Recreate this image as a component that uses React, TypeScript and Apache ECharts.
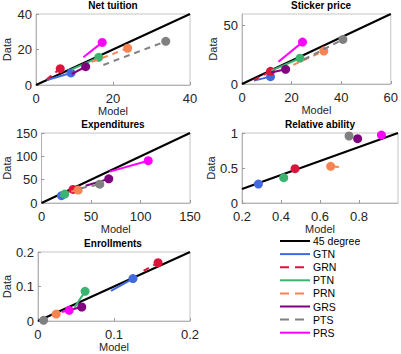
import React, { useEffect, useRef } from "react";
import * as echarts from "echarts";

// Group order, colours and dash styles
const groups = ["GTN", "GRN", "PTN", "PRN", "GRS", "PTS", "PRS"];
const groupColors = ["#4169E1", "#DC143C", "#3CB371", "#F98453", "#800080", "#808080", "#FF00FF"];
const groupDashed = [false, true, false, true, false, true, false];

// Each group is a segment: [start, end] in model units and data units
const netTuitionModel = [[2.8, 9.1], [2.8, 6.3], [9.3, 16.3], [14.5, 23.8], [9.3, 12.9], [17.5, 33.7], [12.3, 17.2]];
const netTuitionData = [[2.8, 6.8], [3.2, 9.2], [8.8, 15.6], [13.0, 20.7], [6.2, 10.3], [11.3, 24.6], [15.6, 24.0]];

const stickerModel = [[4.8, 11.5], [4.8, 11.5], [11.8, 23.4], [20.7, 33.0], [11.8, 17.6], [25.0, 40.7], [14.7, 24.4]];
const stickerData = [[2.9, 6.3], [3.4, 10.9], [11.5, 22.1], [16.4, 28.2], [9.8, 12.6], [21.0, 38.2], [19.0, 35.9]];

const expendModel = [[17, 20.1], [26.6, 31.8], [18.5, 23.4], [30, 37], [44.5, 67.9], [39.6, 58.8], [68.8, 107.8]];
const expendData = [[12, 15.6], [23.4, 29], [14, 19.1], [24.8, 27.6], [36.8, 51.7], [31.8, 40.3], [67.2, 90.6]];

const abilityModel = [[0.28, 0.284], [0.468, 0.472], [0.41, 0.414], [0.697, 0.655], [0.79, 0.793], [0.745, 0.749], [0.912, 0.915]];
const abilityData = [[0.27, 0.271], [0.49, 0.49], [0.362, 0.362], [0.514, 0.524], [0.919, 0.919], [0.957, 0.957], [0.97, 0.97]];

const enrollModel = [[0.096, 0.125], [0.139, 0.158], [0.048, 0.062], [0.018, 0.024], [0.04, 0.0576], [0.003, 0.0074], [0.031, 0.041]];
const enrollData = [[0.087, 0.123], [0.145, 0.169], [0.039, 0.086], [0.016, 0.02], [0.031, 0.0406], [0.0005, 0.0019], [0.026, 0.031]];

// Panel titles and axis ranges
const panelTitles = ["Net tuition", "Sticker price", "Expenditures", "Relative ability", "Enrollments"];
const xRanges = [[0, 40, 20], [0, 60, 20], [0, 150, 50], [0.2, 1, 0.2], [0, 0.2, 0.1]];
const yRanges = [[0, 40, 20], [0, 60, 50], [0, 150, 50], [0, 1, 0.5], [0, 0.2, 0.1]];
const diagonals = [[0, 40], [0, 60], [0, 150], [0.2, 1], [0, 0.2]];

const legendLabels = ["45 degree", ...groups];

const FONT = "Liberation Sans, Arial, Helvetica, sans-serif";

const panelModel = [netTuitionModel, stickerModel, expendModel, abilityModel, enrollModel];
const panelData = [netTuitionData, stickerData, expendData, abilityData, enrollData];

// Grid boxes in pixels
const grids = [
  { left: 36, top: 14, width: 154, height: 71 },
  { left: 242, top: 14, width: 158, height: 70 },
  { left: 36, top: 133, width: 154, height: 70 },
  { left: 242, top: 133, width: 156, height: 70 },
  { left: 36, top: 252, width: 154, height: 69 },
];

export default function App() {
  const ref = useRef<HTMLDivElement>(null);

  useEffect(() => {
    document.body.style.margin = "0";
    const chart = echarts.init(ref.current!, null, { renderer: "svg" });

    const axisCommon = {
      axisLine: { show: true, onZero: false, lineStyle: { color: "#b4b4b4", width: 1 } },
      axisTick: { show: true, inside: true, length: 3, lineStyle: { color: "#9a9a9a" } },
      splitLine: { show: false },
      nameLocation: "middle" as const,
      nameTextStyle: { fontFamily: FONT, fontSize: 11, color: "#262626" },
    };

    const xAxis = xRanges.map((r, i) => ({
      ...axisCommon,
      type: "value",
      gridIndex: i,
      min: r[0],
      max: r[1],
      interval: r[2],
      name: "Model",
      nameGap: 20,
      axisLabel: {
        fontFamily: FONT,
        fontSize: 13,
        lineHeight: 12,
        color: "#262626",
        margin: 7,
        showMaxLabel: i !== 3,
        formatter: (v: number) => String(+v.toFixed(2)),
      },
    }));

    const yAxis = yRanges.map((r, i) => ({
      ...axisCommon,
      type: "value",
      gridIndex: i,
      min: r[0],
      max: r[1],
      interval: r[2],
      name: "Data",
      nameGap: 24,
      axisLabel: {
        fontFamily: FONT,
        fontSize: 13,
        lineHeight: 12,
        color: "#262626",
        margin: 4,
        showMaxLabel: i !== 1,
        formatter: (v: number) => String(+v.toFixed(2)),
      },
    }));

    const series: any[] = [];
    diagonals.forEach((d, i) => {
      series.push({
        type: "line",
        name: "45 degree",
        xAxisIndex: i,
        yAxisIndex: i,
        data: [[d[0], d[0]], [d[1], d[1]]],
        symbol: "none",
        lineStyle: { color: "#000", width: 2 },
        z: 2,
        silent: true,
      });
    });
    panelModel.forEach((pm, i) => {
      const pd = panelData[i];
      groups.forEach((g, k) => {
        series.push({
          type: "line",
          name: g,
          xAxisIndex: i,
          yAxisIndex: i,
          data: [
            { value: [pm[k][0], pd[k][0]], symbol: "none" },
            { value: [pm[k][1], pd[k][1]], symbol: "circle", symbolSize: 9 },
          ],
          lineStyle: { color: groupColors[k], width: 2, type: groupDashed[k] ? [6, 5] : "solid" },
          itemStyle: { color: groupColors[k] },
          z: 3 + k,
          silent: true,
        });
      });
    });

    const titles = panelTitles.map((t, i) => ({
      text: t,
      left: grids[i].left + grids[i].width / 2,
      top: grids[i].top - 14,
      textAlign: "center",
      padding: 0,
      textStyle: { fontFamily: FONT, fontSize: 10, fontWeight: "bold", color: "#000" },
    }));

    // Legend drawn as line swatches with labels
    const legendItems: any[] = [];
    legendLabels.forEach((label, j) => {
      const y = 241 + j * 13.1;
      const color = j === 0 ? "#000" : groupColors[j - 1];
      const dashed = j === 0 ? false : groupDashed[j - 1];
      legendItems.push({
        type: "line",
        shape: { x1: 280, y1: y, x2: 310, y2: y },
        style: { stroke: color, lineWidth: 2, lineDash: dashed ? [9, 6] : null },
      });
      legendItems.push({
        type: "text",
        x: 313,
        y,
        style: {
          text: label,
          fontFamily: FONT,
          fontSize: 10.5,
          fill: "#000",
          verticalAlign: "middle",
          textAlign: "left",
        },
      });
    });

    chart.setOption({
      animation: false,
      backgroundColor: "#fff",
      title: titles,
      grid: grids.map((g) => ({ ...g, show: true, borderColor: "#c4c4c4", borderWidth: 1, backgroundColor: "transparent" })),
      xAxis,
      yAxis,
      series,
      graphic: legendItems,
    });

    return () => chart.dispose();
  }, []);

  return <div ref={ref} style={{ position: "absolute", left: 0, top: 0, width: 401, height: 354 }} />;
}
